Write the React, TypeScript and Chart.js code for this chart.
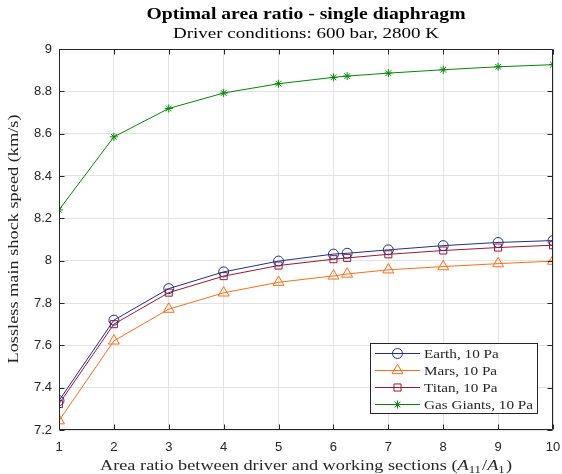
import React, { useEffect, useRef } from "react";
import { Chart, registerables } from "chart.js";
import { drawPoint } from "chart.js/helpers";

Chart.register(...registerables);

const areaRatios = [1, 2, 3, 4, 5, 6, 6.25, 7, 8, 9, 10];
const earth = [7.339, 7.719, 7.868, 7.947, 7.998, 8.031, 8.035, 8.051, 8.071, 8.086, 8.095];
const mars = [7.244, 7.621, 7.771, 7.848, 7.898, 7.928, 7.937, 7.957, 7.972, 7.986, 7.998];
const titan = [7.323, 7.700, 7.849, 7.927, 7.977, 8.007, 8.013, 8.030, 8.048, 8.062, 8.073];
const gasGiants = [8.240, 8.585, 8.719, 8.792, 8.836, 8.866, 8.872, 8.886, 8.902, 8.916, 8.926];

const seriesNames = ["Earth, 10 Pa", "Mars, 10 Pa", "Titan, 10 Pa", "Gas Giants, 10 Pa"];
const seriesColors = ["#1f2f8c", "#ff6d10", "#a2142f", "#008a00"];
const seriesStyles = ["circle", "triangle", "rect", "star"];
const seriesRadius = [5, 6.3, 5, 4];

const titleText = "Optimal area ratio - single diaphragm";
const subtitleText = "Driver conditions: 600 bar, 2800 K";
const xTitleText = "Area ratio between driver and working sections (";
const yTitleText = "Lossless main shock speed (km/s)";

const SERIF = "'Liberation Serif', 'DejaVu Serif', serif";
const SANS = "'Liberation Sans', Arial, sans-serif";
const AXIS = "#262626";

function drawFitted(ctx: CanvasRenderingContext2D, text: string, font: string, cx: number, cy: number, target: number) {
  ctx.font = font;
  const w = ctx.measureText(text).width;
  ctx.save();
  ctx.translate(cx, cy);
  ctx.scale(target / w, 1);
  ctx.textAlign = "center";
  ctx.textBaseline = "middle";
  ctx.fillText(text, 0, 0);
  ctx.restore();
}

const decorPlugin = {
  id: "decor",
  afterDraw(chart: any) {
    const ctx: CanvasRenderingContext2D = chart.ctx;
    const a = chart.chartArea;
    const xs = chart.scales.x;
    const ys = chart.scales.y;
    ctx.save();
    // box
    ctx.strokeStyle = AXIS;
    ctx.lineWidth = 1;
    const L = Math.round(a.left) + 0.5;
    const R = Math.round(a.right) - 0.5;
    const T = Math.round(a.top) + 0.5;
    const B = Math.round(a.bottom) - 0.5;
    ctx.beginPath();
    ctx.rect(L, T, R - L, B - T);
    ctx.stroke();
    // inward ticks
    ctx.beginPath();
    xs.ticks.forEach((t: any) => {
      const px = Math.round(xs.getPixelForValue(t.value)) + 0.5;
      ctx.moveTo(px, B);
      ctx.lineTo(px, B - 5);
      ctx.moveTo(px, T);
      ctx.lineTo(px, T + 5);
    });
    ys.ticks.forEach((t: any) => {
      const py = Math.round(ys.getPixelForValue(t.value)) + 0.5;
      ctx.moveTo(L, py);
      ctx.lineTo(L + 5, py);
      ctx.moveTo(R, py);
      ctx.lineTo(R - 5, py);
    });
    ctx.stroke();

    // titles
    ctx.fillStyle = "#000";
    const cx = (a.left + a.right) / 2;
    drawFitted(ctx, titleText, `bold 16px ${SERIF}`, cx, 15, 319);
    drawFitted(ctx, subtitleText, `normal 15.5px ${SERIF}`, cx, 34, 266);

    // x title with math part
    ctx.fillStyle = AXIS;
    const xsz = 15.5;
    const fN = `normal ${xsz}px ${SERIF}`;
    const fI = `italic ${xsz}px ${SERIF}`;
    const fS = `normal ${xsz * 0.7}px ${SERIF}`;
    const pieces: [string, string, number, number][] = [
      [xTitleText, fN, 0, 0],
      ["A", fI, 0, 0],
      ["11", fS, 4, 1],
      ["/", fN, 0, 0],
      ["A", fI, 0, 0],
      ["1", fS, 4, 1],
      [")", fN, 0, 0],
    ];
    let total = 0;
    const widths = pieces.map((p) => {
      ctx.font = p[1];
      const w = ctx.measureText(p[0]).width + p[3];
      total += w;
      return w;
    });
    const targetX = 412;
    ctx.save();
    ctx.translate(cx - targetX / 2, 466);
    ctx.scale(targetX / total, 1);
    ctx.textAlign = "left";
    ctx.textBaseline = "middle";
    let x0 = 0;
    pieces.forEach((p, i) => {
      ctx.font = p[1];
      ctx.fillText(p[0], x0, p[2]);
      x0 += widths[i];
    });
    ctx.restore();

    // y title
    ctx.save();
    ctx.translate(14, 239);
    ctx.rotate(-Math.PI / 2);
    drawFitted(ctx, yTitleText, `normal 15.5px ${SERIF}`, 0, 0, 249);
    ctx.restore();

    // legend
    const lx = 370.5, ly = 343.5, lw = 167, lh = 70;
    ctx.fillStyle = "#fff";
    ctx.fillRect(lx, ly, lw, lh);
    ctx.strokeStyle = AXIS;
    ctx.lineWidth = 1;
    ctx.strokeRect(lx, ly, lw, lh);
    const rows = [353.5, 370.5, 387.5, 404.5];
    const legFont = `normal 13.5px ${SERIF}`;
    ctx.font = legFont;
    const refW = ctx.measureText(seriesNames[3]).width;
    const legScale = 109 / refW;
    seriesNames.forEach((name, i) => {
      const y = rows[i];
      ctx.strokeStyle = seriesColors[i];
      ctx.lineWidth = 1;
      ctx.beginPath();
      ctx.moveTo(375, y);
      ctx.lineTo(420, y);
      ctx.stroke();
      ctx.fillStyle = "rgba(0,0,0,0)";
      ctx.strokeStyle = seriesColors[i];
      drawPoint(ctx, { pointStyle: seriesStyles[i], radius: seriesRadius[i], rotation: 0, borderWidth: 1 } as any, 397.5, y);
      ctx.fillStyle = AXIS;
      ctx.save();
      ctx.translate(424, y + 1);
      ctx.scale(legScale, 1);
      ctx.font = legFont;
      ctx.textAlign = "left";
      ctx.textBaseline = "middle";
      ctx.fillText(name, 0, 0);
      ctx.restore();
    });
    ctx.restore();
  },
};

export default function App() {
  const ref = useRef<HTMLCanvasElement | null>(null);
  useEffect(() => {
    if (!ref.current) return;
    const allSeries = [earth, mars, titan, gasGiants];
    const chart = new Chart(ref.current, {
      type: "line",
      data: {
        datasets: allSeries.map((vals, i) => ({
          label: seriesNames[i],
          data: areaRatios.map((x, j) => ({ x, y: vals[j] })),
          borderColor: seriesColors[i],
          backgroundColor: "rgba(0,0,0,0)",
          pointBackgroundColor: "rgba(0,0,0,0)",
          pointBorderColor: seriesColors[i],
          pointStyle: seriesStyles[i] as any,
          pointRadius: seriesRadius[i],
          pointBorderWidth: 1,
          borderWidth: 1,
          tension: 0,
          fill: false,
        })),
      },
      options: {
        animation: false,
        responsive: false,
        devicePixelRatio: 1,
        layout: { padding: { left: 0, top: 49, right: 9, bottom: 0 } },
        plugins: { legend: { display: false }, tooltip: { enabled: false }, title: { display: false } },
        scales: {
          x: {
            type: "linear",
            min: 1,
            max: 10,
            ticks: { stepSize: 1, color: AXIS, font: { family: SANS, size: 13 }, padding: 10 },
            grid: { color: "#e3e3e3", drawTicks: false },
            border: { display: false },
            afterFit: (sc: any) => { sc.height = 44; sc.paddingRight = 0; sc.paddingLeft = 0; },
          },
          y: {
            type: "linear",
            min: 7.2,
            max: 9,
            ticks: {
              stepSize: 0.2,
              color: AXIS,
              font: { family: SANS, size: 13 },
              padding: 7,
              callback: (v: any) => String(Number(Number(v).toFixed(1))),
            },
            grid: { color: "#e3e3e3", drawTicks: false },
            border: { display: false },
            afterFit: (sc: any) => { sc.width = 59; sc.paddingTop = 0; sc.paddingBottom = 0; },
          },
        },
      },
      plugins: [decorPlugin],
    });
    return () => chart.destroy();
  }, []);
  return (
    <div style={{ position: "fixed", left: 0, top: 0, width: 562, height: 474, background: "#fff" }}>
      <canvas ref={ref} width={562} height={474} style={{ width: 562, height: 474, display: "block" }} />
    </div>
  );
}
